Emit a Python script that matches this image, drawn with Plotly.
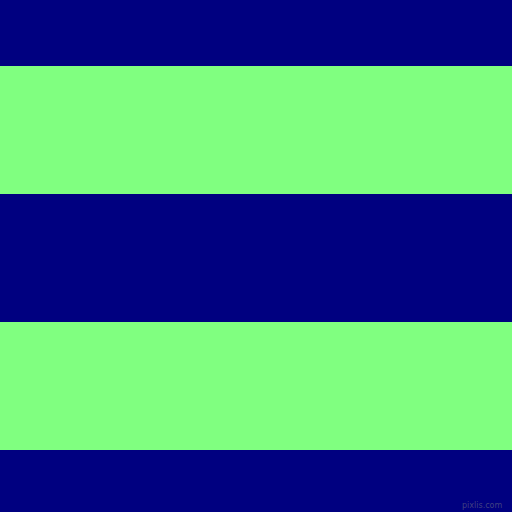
import plotly.graph_objects as go

# stripe layout in pixel rows (top = 0)
stripe_names = ["stripe 1", "stripe 2"]
stripe_top = [66, 322]
stripe_height = [128, 128]

background = "#000080"
stripe_color = "#80ff80"

fig = go.Figure()
fig.add_trace(go.Bar(
    x=[0, 0],
    y=stripe_height,
    base=stripe_top,
    width=1,
    marker=dict(color=stripe_color, line=dict(width=0)),
    hoverinfo="skip",
    name="stripes",
))

fig.update_layout(
    width=512, height=512,
    margin={"r": 0, "t": 0, "l": 0, "b": 0},
    paper_bgcolor=background,
    plot_bgcolor=background,
    showlegend=False,
    barmode="overlay",
    xaxis=dict(range=[-0.5, 0.5], visible=False, fixedrange=True),
    yaxis=dict(range=[512, 0], visible=False, fixedrange=True),
)
fig.add_annotation(
    text="pixlis.com", xref="paper", yref="paper", x=0.985, y=0.0,
    xanchor="right", yanchor="bottom", showarrow=False,
    font=dict(family="DejaVu Sans", size=8, color="rgba(128,128,128,0.5)"),
)
# drop the default page margin so the chart fills the window
fig.write_html(
    "out.html",
    config={"displayModeBar": False},
    post_script="document.body.style.margin='0';document.body.style.overflow='hidden';",
)
